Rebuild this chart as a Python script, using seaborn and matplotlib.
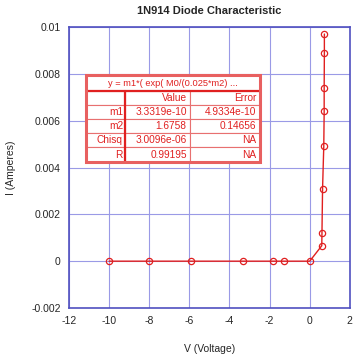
import matplotlib
matplotlib.use("Agg")
import pandas as pd
import seaborn as sns
import matplotlib.pyplot as plt
from matplotlib.patches import Rectangle


# data
voltage = [-10, -8, -5.94, -3.33, -1.85, -1.27, 0, 0.6, 0.61, 0.64, 0.7, 0.72, 0.72, 0.73, 0.73]
current = [0, 0, 0, 0, 0, 0, 0, 0.00066, 0.0012, 0.0031, 0.0049, 0.0064, 0.0074, 0.0089, 0.0097]

fit_title = "y = m1*( exp( M0/(0.025*m2) ..."
fit_header = ["", "Value", "Error"]
fit_rows = [
    ["m1", "3.3319e-10", "4.9334e-10"],
    ["m2", "1.6758", "0.14656"],
    ["Chisq", "3.0096e-06", "NA"],
    ["R", "0.99195", "NA"],
]

x_ticks = [-12, -10, -8, -6, -4, -2, 0, 2]
y_ticks = [-0.002, 0, 0.002, 0.004, 0.006, 0.008, 0.01]
y_tick_labels = ["-0.002", "0", "0.002", "0.004", "0.006", "0.008", "0.01"]

df = pd.DataFrame({"V": voltage, "I": current})

sns.set_style("white")
plt.rcParams['font.family'] = ['Liberation Sans', 'DejaVu Sans']

red = "#e02020"
blue_grid = "#9a9ae6"
blue_axis = "#5050c0"

fig = plt.figure(figsize=(3.57, 3.6), dpi=100)
ax = fig.add_axes([0.193, 0.1444, 0.787, 0.7806])

# estimator=None so repeated voltages are not averaged
sns.lineplot(data=df, x="V", y="I", ax=ax, sort=False, estimator=None,
             color=red, linewidth=1.0,
             marker="o", markersize=4.5, markerfacecolor="none",
             markeredgecolor=red, markeredgewidth=0.9)

ax.set_xlim(-12, 2)
ax.set_ylim(-0.002, 0.01)
ax.set_xticks(x_ticks)
ax.set_xticklabels([str(t) for t in x_ticks])
ax.set_yticks(y_ticks)
ax.set_yticklabels(y_tick_labels)
ax.tick_params(labelsize=7.5, length=0, pad=6)
ax.grid(True, color=blue_grid, linewidth=0.8)
ax.set_axisbelow(True)
for s in ax.spines.values():
    s.set_color(blue_axis)
    s.set_linewidth(1.2)

ax.set_xlabel("V (Voltage)", fontsize=7.5, labelpad=13)
ax.set_ylabel("I (Amperes)", fontsize=7.5, labelpad=11)
ax.set_title("1N914 Diode Characteristic", fontsize=8, fontweight="bold", pad=9)

# fit result table
x0, x1 = 0.0605, 0.680
y_bot, y_mid, y_top = 0.521, 0.772, 0.829

head = ax.table(cellText=[[fit_title]], cellLoc="center",
                bbox=[x0, y_mid, x1 - x0, y_top - y_mid])
body = ax.table(cellText=[fit_header] + fit_rows, cellLoc="right",
                colWidths=[0.224, 0.374, 0.402],
                bbox=[x0, y_bot, x1 - x0, y_mid - y_bot])
for tb, fs in ((head, 6.7), (body, 7.3)):
    tb.auto_set_font_size(False)
    tb.set_fontsize(fs)
    tb.set_zorder(5)
    for cell in tb.get_celld().values():
        cell.set_edgecolor("#e87070")
        cell.set_linewidth(0.8)
        cell.set_facecolor("white")
        cell.get_text().set_color(red)
        cell.PAD = 0.05

ax.plot([x0, x1], [y_mid, y_mid], transform=ax.transAxes, color=red, lw=1.6, zorder=6)
ax.plot([x0 + 0.224 * (x1 - x0)] * 2, [y_bot, y_mid], transform=ax.transAxes,
        color=red, lw=1.6, zorder=6)
ax.add_patch(Rectangle((x0, y_bot), x1 - x0, y_top - y_bot, transform=ax.transAxes,
                       fill=False, edgecolor="#e86060", lw=2.2, zorder=6))

fig.savefig("out.png", dpi=100)
